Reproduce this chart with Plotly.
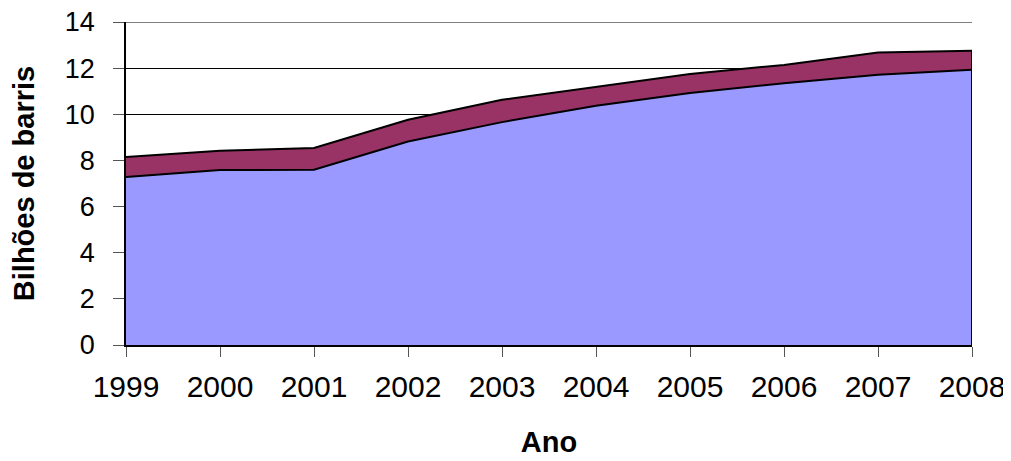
import plotly.graph_objects as go

years = [1999, 2000, 2001, 2002, 2003, 2004, 2005, 2006, 2007, 2008]
serie_inferior = [7.28, 7.58, 7.60, 8.82, 9.66, 10.37, 10.92, 11.35, 11.71, 11.93]
serie_superior = [0.87, 0.84, 0.94, 0.94, 0.97, 0.83, 0.83, 0.79, 0.97, 0.82]
y_ticks = [0, 2, 4, 6, 8, 10, 12, 14]

total = [a + b for a, b in zip(serie_inferior, serie_superior)]

fig = go.Figure()
fig.add_trace(go.Scatter(
    x=years, y=serie_inferior, name="Série 1", stackgroup="s",
    mode="lines", line=dict(color="black", width=2),
    fillcolor="#9999FF",
))
fig.add_trace(go.Scatter(
    x=years, y=serie_superior, name="Série 2", stackgroup="s",
    mode="lines", line=dict(color="black", width=2),
    fillcolor="#993366",
))
# right edge outline of the area
fig.add_trace(go.Scatter(
    x=[years[-1], years[-1]], y=[0, total[-1]],
    mode="lines", line=dict(color="black", width=2),
    showlegend=False, hoverinfo="skip",
))

# top gridline (plotly omits the gridline at the range edge)
fig.add_shape(type="line", xref="paper", x0=0, x1=1, yref="y",
              y0=y_ticks[-1], y1=y_ticks[-1], line=dict(color="black", width=1),
              layer="below")

fig.update_layout(
    width=1003, height=453,
    margin=dict(l=118, r=39, t=14, b=116),
    paper_bgcolor="white", plot_bgcolor="white",
    showlegend=False,
    font=dict(family="Liberation Sans, Arial, sans-serif", color="black"),
)
fig.update_xaxes(
    range=[years[0], years[-1]], automargin=False,
    tickmode="array", tickvals=years, ticktext=[str(y) for y in years],
    tickfont=dict(size=30), ticks="outside", ticklen=10, tickcolor="#555",
    ticklabelstandoff=4, ticklabeloverflow="allow",
    showline=True, linecolor="black", linewidth=2,
    showgrid=False, zeroline=False,
    title=dict(text="<b>Ano</b>", font=dict(size=29), standoff=30),
)
fig.update_yaxes(
    range=[0, 14], automargin=False,
    tickmode="array", tickvals=y_ticks,
    tickfont=dict(size=27), ticks="outside", ticklen=11, tickcolor="#555",
    ticklabelstandoff=13, ticklabeloverflow="allow",
    showline=True, linecolor="black", linewidth=1.5,
    showgrid=True, gridcolor="black", gridwidth=1,
    zeroline=False,
    title=dict(text="<b>Bilhões de barris</b>", font=dict(size=29), standoff=22),
)

fig.write_html("out.html")
